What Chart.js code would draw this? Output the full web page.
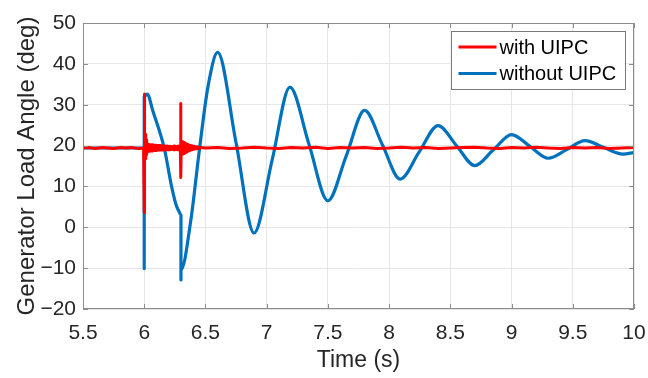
<!DOCTYPE html>
<html>
<head>
<meta charset="utf-8">
<script src="https://cdn.jsdelivr.net/npm/chart.js@4"></script>
<style>
  html, body { margin: 0; padding: 0; background: #fff; }
  #wrap { width: 648px; height: 378px; }
</style>
</head>
<body>
<div id="wrap"><canvas id="grafica" width="648" height="378"></canvas></div>
<script>
// Ejes
const xTicks = [5.5, 6, 6.5, 7, 7.5, 8, 8.5, 9, 9.5, 10];
const xTickLabels = ['5.5', '6', '6.5', '7', '7.5', '8', '8.5', '9', '9.5', '10'];
const yTicks = [-20, -10, 0, 10, 20, 30, 40, 50];
const yTickLabels = ['\u221220', '\u221210', '0', '10', '20', '30', '40', '50'];

const seriesNames = ['with UIPC', 'without UIPC'];

// Con UIPC (rojo)
const redTime = [
  5.50, 5.55, 5.60, 5.65, 5.70, 5.75, 5.80, 5.85, 5.90, 5.95, 5.995,
  6.000, 6.001, 6.004, 6.008, 6.012, 6.016, 6.020,
  6.025, 6.030, 6.035, 6.040, 6.045, 6.050, 6.055, 6.060, 6.065, 6.070,
  6.075, 6.080, 6.085, 6.090, 6.095, 6.100, 6.105, 6.110, 6.115, 6.120,
  6.125, 6.130, 6.135, 6.140, 6.145, 6.150, 6.155, 6.160, 6.165, 6.170,
  6.175, 6.180, 6.185, 6.190, 6.195, 6.200, 6.205, 6.210, 6.215, 6.220,
  6.225, 6.230, 6.235, 6.240, 6.245, 6.250, 6.255, 6.260, 6.265, 6.270,
  6.275, 6.280, 6.285, 6.290,
  6.295, 6.297, 6.300,
  6.303, 6.306, 6.309, 6.312, 6.315, 6.318, 6.321, 6.324, 6.327, 6.330,
  6.333, 6.336, 6.339, 6.342, 6.345, 6.348, 6.351, 6.354, 6.357, 6.360,
  6.363, 6.366, 6.369, 6.372, 6.375, 6.378, 6.381, 6.384, 6.387, 6.390,
  6.393, 6.396, 6.400, 6.405, 6.410, 6.415, 6.420, 6.425, 6.430, 6.435,
  6.440, 6.450, 6.460,
  6.5, 6.6, 6.7, 6.8, 6.9, 7.0, 7.1, 7.2, 7.3, 7.4, 7.5, 7.6, 7.7, 7.8,
  7.9, 8.0, 8.1, 8.2, 8.3, 8.4, 8.5, 8.6, 8.7, 8.8, 8.9, 9.0, 9.1, 9.2,
  9.3, 9.4, 9.5, 9.6, 9.7, 9.8, 9.9, 10.0
];
const redAngle = [
  19.4, 19.5, 19.3, 19.5, 19.4, 19.3, 19.5, 19.4, 19.5, 19.3, 19.4,
  3.6, 32.6, 19.2, 22.8, 16.8, 21.4, 17.8,
  20.3, 18.6, 20.3, 18.6, 20.2, 18.7, 20.2, 18.7, 20.2, 18.7,
  20.1, 18.8, 20.1, 18.8, 20.1, 18.8, 20.0, 18.9, 20.0, 18.9,
  20.0, 18.9, 20.0, 18.9, 19.9, 18.9, 19.9, 19.0, 19.9, 19.0,
  19.9, 19.0, 19.9, 19.0, 19.8, 19.0, 19.8, 19.0, 19.8, 19.1,
  19.8, 19.1, 19.8, 19.0, 19.9, 19.0, 19.8, 19.1, 19.8, 19.0,
  19.9, 19.0, 19.8, 19.1,
  19.4, 30.3, 12.2,
  21.1, 17.8, 21.0, 17.9, 20.9, 18.0, 20.8, 18.1, 20.7, 18.2,
  20.6, 18.3, 20.5, 18.4, 20.4, 18.5, 20.3, 18.6, 20.2, 18.7,
  20.1, 18.8, 20.1, 18.9, 20.0, 18.9, 20.0, 19.0, 19.9, 19.0,
  19.9, 19.1, 19.8, 19.1, 19.8, 19.2, 19.7, 19.2, 19.7, 19.3,
  19.6, 19.3, 19.5,
  19.4, 19.5, 19.3, 19.4, 19.6, 19.4, 19.3, 19.5, 19.4, 19.6, 19.3, 19.5, 19.4, 19.5,
  19.3, 19.4, 19.6, 19.4, 19.5, 19.3, 19.4, 19.5, 19.6, 19.4, 19.3, 19.5, 19.4, 19.6,
  19.4, 19.3, 19.5, 19.4, 19.5, 19.3, 19.4, 19.5
];

// Sin UIPC (azul)
const blueTime = [
  5.5, 6.0, 6.0, 6.0, 6.025, 6.07, 6.165, 6.22, 6.26, 6.29, 6.30, 6.30, 6.30,
  6.38, 6.45, 6.52, 6.60, 6.75, 6.897, 7.045, 7.19, 7.345, 7.50, 7.65, 7.80,
  7.945, 8.09, 8.245, 8.40, 8.55, 8.70, 8.85, 9.00, 9.15, 9.30, 9.45, 9.60,
  9.755, 9.91, 10.0
];
const blueAngle = [
  19.4, 19.4, -10.1, 32.0, 32.6, 28.5, 19.2, 10.5, 5.5, 3.5, 3.0, -12.9, -10.5,
  1.6, 18.8, 34.3, 42.8, 20.7, -1.4, 16.5, 34.3, 20.4, 6.5, 17.5, 28.6,
  20.2, 11.8, 18.4, 24.9, 20.0, 15.1, 18.9, 22.7, 19.8, 16.9, 19.0, 21.2,
  19.5, 17.9, 18.3
];

const colorRojo = '#ff0000';
const colorAzul = '#0072bd';
const colorMarco = '#8c8c8c';
const colorTexto = '#262626';
const fuente = '"Liberation Sans", Arial, sans-serif';

// Marco tipo MATLAB con marcas hacia dentro
const marcoPlugin = {
  id: 'marco',
  afterDatasetsDraw(chart) {
    const { ctx, chartArea: a, scales: { x, y } } = chart;
    ctx.save();
    ctx.strokeStyle = colorMarco;
    ctx.lineWidth = 1;
    ctx.beginPath();
    xTicks.forEach(v => {
      const px = Math.round(x.getPixelForValue(v)) + 0.5;
      ctx.moveTo(px, a.bottom); ctx.lineTo(px, a.bottom - 5);
      ctx.moveTo(px, a.top); ctx.lineTo(px, a.top + 5);
    });
    yTicks.forEach(v => {
      const py = Math.round(y.getPixelForValue(v)) + 0.5;
      ctx.moveTo(a.left, py); ctx.lineTo(a.left + 5, py);
      ctx.moveTo(a.right, py); ctx.lineTo(a.right - 5, py);
    });
    ctx.stroke();
    ctx.strokeRect(a.left + 0.5, a.top + 0.5, a.width - 1, a.height - 1);
    ctx.restore();
  },
  afterDraw(chart) {
    // Leyenda dentro del area
    const { ctx, chartArea: a } = chart;
    const bx = a.right - 183.5, by = a.top + 8, bw = 174, bh = 58;
    ctx.save();
    ctx.fillStyle = '#fff';
    ctx.fillRect(bx, by, bw, bh);
    ctx.strokeStyle = '#7a7a7a';
    ctx.lineWidth = 1;
    ctx.strokeRect(Math.round(bx) + 0.5, Math.round(by) + 0.5, bw, bh);
    ctx.font = '20px ' + fuente;
    ctx.textBaseline = 'middle';
    chart.data.datasets.forEach((ds, i) => {
      const ly = by + 16 + i * 26.5;
      ctx.strokeStyle = ds.borderColor;
      ctx.lineWidth = 3;
      ctx.beginPath();
      ctx.moveTo(bx + 8, ly);
      ctx.lineTo(bx + 46, ly);
      ctx.stroke();
      ctx.fillStyle = '#000';
      ctx.fillText(ds.label, bx + 49, ly + 1);
    });
    ctx.restore();
  }
};

const ctxGrafica = document.getElementById('grafica').getContext('2d');

new Chart(ctxGrafica, {
  type: 'line',
  data: {
    datasets: [
      {
        label: seriesNames[0],
        data: redTime.map((t, i) => ({ x: t, y: redAngle[i] })),
        borderColor: colorRojo,
        borderWidth: 3,
        borderJoinStyle: 'round',
        tension: 0,
        pointRadius: 0
      },
      {
        label: seriesNames[1],
        data: blueTime.map((t, i) => ({ x: t, y: blueAngle[i] })),
        borderColor: colorAzul,
        borderWidth: 3.2,
        borderJoinStyle: 'round',
        cubicInterpolationMode: 'monotone',
        pointRadius: 0
      }
    ]
  },
  options: {
    responsive: false,
    animation: false,
    devicePixelRatio: 1,
    layout: { padding: { top: 23, right: 14, left: 0, bottom: 0 } },
    plugins: {
      legend: { display: false },
      tooltip: { enabled: false }
    },
    scales: {
      x: {
        type: 'linear',
        min: 5.5,
        max: 10,
        afterBuildTicks: s => { s.ticks = xTicks.map(v => ({ value: v })); },
        afterFit: s => { s.height = 69; s.paddingLeft = 0; s.paddingRight = 0; },
        grid: { color: '#e6e6e6', drawTicks: false },
        border: { display: false },
        ticks: {
          padding: 12,
          color: colorTexto,
          font: { family: fuente, size: 21 },
          maxRotation: 0,
          autoSkip: false,
          callback: (v, i) => xTickLabels[i]
        },
        title: {
          display: true,
          text: 'Time (s)',
          color: colorTexto,
          font: { family: fuente, size: 23 },
          padding: { top: 0, bottom: 4 }
        }
      },
      y: {
        min: -20,
        max: 50,
        afterBuildTicks: s => { s.ticks = yTicks.map(v => ({ value: v })); },
        afterFit: s => { s.width = 83; s.paddingTop = 0; s.paddingBottom = 0; },
        grid: { color: '#e6e6e6', drawTicks: false },
        border: { display: false },
        ticks: {
          padding: 7,
          color: colorTexto,
          font: { family: fuente, size: 21 },
          autoSkip: false,
          callback: (v, i) => yTickLabels[i]
        },
        title: {
          display: true,
          text: 'Generator Load Angle (deg)',
          color: colorTexto,
          font: { family: fuente, size: 24 },
          padding: { top: 13, bottom: 0 }
        }
      }
    }
  },
  plugins: [marcoPlugin]
});
</script>
</body>
</html>
